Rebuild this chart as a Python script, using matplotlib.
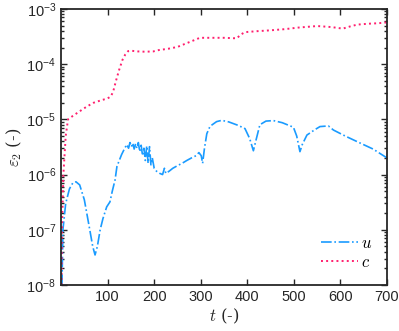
import numpy as np
import matplotlib
matplotlib.use("Agg")
import matplotlib.pyplot as plt
import matplotlib.ticker as ticker

plt.rcParams["font.family"] = ["Liberation Sans", "DejaVu Sans"]
# Sans math for tick labels; axis labels switch to Computer Modern per text
plt.rcParams["mathtext.fontset"] = "custom"
plt.rcParams["mathtext.rm"] = "Liberation Sans"
plt.rcParams["mathtext.it"] = "Liberation Sans:italic"

# ── Data ─────────────────────────────────────────────────────────────────────
t_u = [2, 4, 10, 18, 25, 32, 40, 50, 60, 68, 73, 78, 84, 90, 98, 105, 110, 116,
       120, 125, 130, 135, 141, 145, 148, 151, 154, 157, 160, 163, 166, 169,
       172, 175, 178, 181, 184, 187, 190, 193, 196, 200, 205, 212, 218, 222,
       225, 232, 240, 250, 260, 270, 280, 290, 296, 301, 304, 308, 313, 320,
       334, 345, 360, 380, 395, 405, 413, 418, 427, 440, 456, 475, 499, 506,
       513, 518, 528, 545, 556, 574, 585, 610, 640, 670, 700]
eps_u = [1e-8, 1e-7, 3e-7, 5.5e-7, 7e-7, 7.4e-7, 6.5e-7, 3.5e-7, 1.2e-7, 5e-8,
         3.5e-8, 5e-8, 1e-7, 1.6e-7, 2.6e-7, 3.2e-7, 5e-7, 8e-7,
         1.4e-6, 1.8e-6, 2.3e-6, 2.8e-6, 3.5e-6, 3.0e-6, 3.8e-6, 3.2e-6,
         3.7e-6, 2.9e-6, 3.6e-6, 3.0e-6, 3.8e-6, 2.6e-6,
         3.4e-6, 2.2e-6, 3.0e-6, 1.8e-6, 3.3e-6, 1.6e-6, 3.2e-6, 1.5e-6,
         2.0e-6, 1.3e-6, 1.15e-6, 1.05e-6, 1.0e-6, 1.3e-6,
         1.05e-6, 1.15e-6, 1.3e-6, 1.45e-6, 1.6e-6, 1.8e-6, 2.0e-6, 2.2e-6,
         2.5e-6, 2.2e-6, 1.6e-6, 3.0e-6, 5.5e-6, 7.5e-6,
         9.1e-6, 9.6e-6, 9.0e-6, 7.8e-6, 6.8e-6, 4.5e-6, 2.7e-6, 4.0e-6,
         8.0e-6, 9.3e-6, 9.5e-6, 8.7e-6, 7.2e-6, 5e-6,
         2.6e-6, 3.5e-6, 5.2e-6, 6.5e-6, 7.4e-6, 7.6e-6, 6.4e-6, 5.0e-6,
         3.8e-6, 2.9e-6, 2.0e-6]

t_c = [1, 2, 5, 10, 15, 25, 40, 55, 70, 85, 100, 107, 112, 118, 125, 132, 138,
       144, 150, 165, 180, 198, 210, 230, 250, 270, 285, 298, 320, 350, 370,
       378, 385, 395, 420, 450, 480, 510, 550, 580, 605, 620, 636, 660, 680,
       700]
eps_c = [1e-8, 1e-7, 1e-6, 5e-6, 1e-5, 1.15e-5, 1.4e-5, 1.7e-5, 2.0e-5,
         2.2e-5, 2.4e-5, 2.6e-5, 3.2e-5, 5e-5, 8e-5, 1.2e-4, 1.5e-4,
         1.72e-4, 1.75e-4, 1.7e-4, 1.68e-4, 1.7e-4, 1.8e-4, 1.9e-4, 2.05e-4,
         2.4e-4, 2.7e-4, 3.0e-4, 3.0e-4, 3.0e-4, 2.95e-4,
         2.95e-4, 3.4e-4, 3.8e-4, 3.95e-4, 4.1e-4, 4.3e-4, 4.6e-4, 4.9e-4,
         4.7e-4, 4.4e-4, 4.8e-4, 5.2e-4, 5.4e-4, 5.5e-4, 5.7e-4]

x_ticks = [100, 200, 300, 400, 500, 600, 700]

BLUE = "#1a9bff"
PINK = "#ff1f6e"
AX_COLOR = "#262626"

fig = plt.figure(figsize=(3.99, 3.31), dpi=100)
ax = fig.add_axes([0.153, 0.139, 0.817, 0.834])

ax.plot(t_u, eps_u, color=BLUE, linestyle="-.", linewidth=1.2, label="$u$")
ax.plot(t_c, eps_c, color=PINK, linestyle=":", linewidth=1.4, label="$c$")

ax.set_yscale("log")
ax.set_xlim(0, 700)
ax.set_ylim(1e-8, 1e-3)
ax.set_xticks(x_ticks)
ax.yaxis.set_major_locator(ticker.LogLocator(base=10, numticks=10))
ax.yaxis.set_minor_locator(ticker.LogLocator(base=10, subs=np.arange(2, 10), numticks=10))
ax.yaxis.set_major_formatter(ticker.FuncFormatter(
    lambda v, _: r"$10^{%d}$" % int(round(np.log10(v)))))

ax.tick_params(which="both", direction="in", top=True, right=True,
               color=AX_COLOR, labelcolor=AX_COLOR, labelsize=10.5, width=1.0)
ax.tick_params(which="major", length=4)
ax.tick_params(which="minor", length=2.5)
for s in ax.spines.values():
    s.set_color(AX_COLOR)
    s.set_linewidth(1.3)

ax.set_xlabel(r"$t$ (-)", fontsize=12, color=AX_COLOR, labelpad=2,
              family="DejaVu Serif", math_fontfamily="cm")
ax.set_ylabel(r"$\varepsilon_2$ (-)", fontsize=12, color=AX_COLOR, labelpad=2,
              family="DejaVu Serif", math_fontfamily="cm")

leg = ax.legend(loc="lower right", frameon=False, fontsize=12, handlelength=2.2,
                handletextpad=0.2, borderaxespad=0.5, labelspacing=0.25)
for txt in leg.get_texts():
    txt.set_math_fontfamily("cm")

fig.savefig("out.png", dpi=100)
